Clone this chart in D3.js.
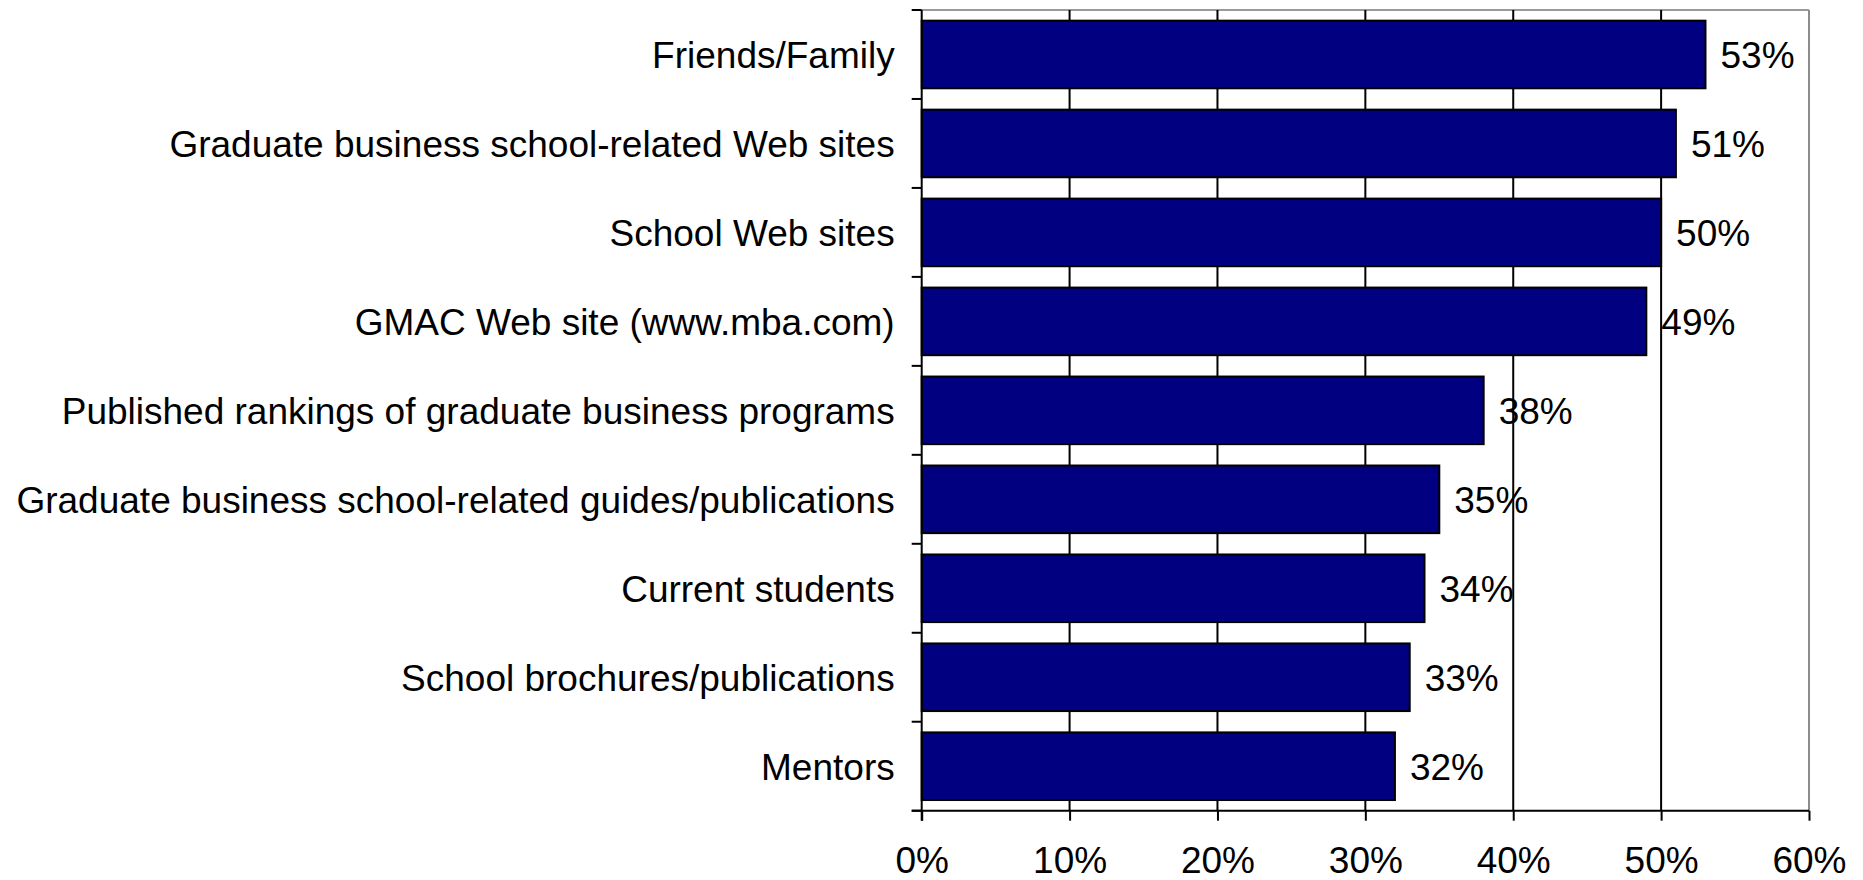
<!DOCTYPE html>
<html>
<head>
<meta charset="utf-8">
<script src="https://cdn.jsdelivr.net/npm/d3@7"></script>
<style>
  html, body { margin: 0; padding: 0; background: #ffffff; }
  svg { display: block; }
  text { font-family: "Liberation Sans", Arial, sans-serif; fill: #000; }
</style>
</head>
<body>
<svg id="chart" width="1863" height="880"></svg>
<script>
// Information sources used by prospective students (share of respondents)
const categories = [
  "Friends/Family",
  "Graduate business school-related Web sites",
  "School Web sites",
  "GMAC Web site (www.mba.com)",
  "Published rankings of graduate business programs",
  "Graduate business school-related guides/publications",
  "Current students",
  "School brochures/publications",
  "Mentors"
];
const values = [0.53, 0.51, 0.50, 0.49, 0.38, 0.35, 0.34, 0.33, 0.32];
const xTickValues = [0, 0.1, 0.2, 0.3, 0.4, 0.5, 0.6];

const W = 1863, H = 880;
const margin = { top: 10, right: 54, bottom: 69.3, left: 921.7 };
const innerW = W - margin.left - margin.right;
const innerH = H - margin.top - margin.bottom;

const svg = d3.select("#chart");
const g = svg.append("g").attr("transform", `translate(${margin.left},${margin.top})`);

const x = d3.scaleLinear().domain([0, 0.6]).range([0, innerW]);
const y = d3.scaleBand().domain(categories).range([0, innerH])
  .paddingInner(0.24).paddingOuter(0.12);

const fmt = d3.format(".0%");
const fontSize = 37;
const fontFamily = '"Liberation Sans", Arial, sans-serif';

// Plot frame: grey top and right edges
g.append("line").attr("x1", 0).attr("x2", innerW).attr("y1", 0).attr("y2", 0)
  .attr("stroke", "#9a9a9a").attr("stroke-width", 2);
g.append("line").attr("x1", innerW).attr("x2", innerW).attr("y1", 0).attr("y2", innerH)
  .attr("stroke", "#8c8c8c").attr("stroke-width", 2);

// Vertical gridlines
g.append("g").selectAll("line")
  .data(xTickValues.filter(v => v > 0 && v < 0.6))
  .join("line")
  .attr("x1", d => x(d)).attr("x2", d => x(d))
  .attr("y1", 0).attr("y2", innerH)
  .attr("stroke", "#000").attr("stroke-width", 2);

// Bars
g.append("g").selectAll("rect")
  .data(categories)
  .join("rect")
  .attr("x", 0)
  .attr("y", d => y(d))
  .attr("width", (d, i) => x(values[i]))
  .attr("height", y.bandwidth())
  .attr("fill", "#000080")
  .attr("stroke", "#000")
  .attr("stroke-width", 2);

// Value labels
g.append("g").selectAll("text")
  .data(categories)
  .join("text")
  .attr("x", (d, i) => x(values[i]) + 15)
  .attr("y", d => y(d) + y.bandwidth() / 2)
  .attr("dy", "0.36em")
  .style("font-size", fontSize + "px")
  .text((d, i) => fmt(values[i]));

// X axis
const xAxis = d3.axisBottom(x).tickValues(xTickValues).tickFormat(fmt)
  .tickSize(10).tickSizeOuter(0).tickPadding(26);
const gx = g.append("g").attr("transform", `translate(0,${innerH})`).call(xAxis);
gx.select(".domain").remove();
gx.selectAll(".tick line").attr("stroke", "#000").attr("stroke-width", 2);
gx.selectAll(".tick text").style("font-size", fontSize + "px").style("font-family", fontFamily);
gx.append("line").attr("x1", -10).attr("x2", innerW).attr("y1", 0).attr("y2", 0)
  .attr("stroke", "#000").attr("stroke-width", 2);

// Y axis: category labels plus tick marks on band boundaries
const yAxis = d3.axisLeft(y).tickSize(0).tickPadding(27);
const gy = g.append("g").call(yAxis);
gy.select(".domain").remove();
gy.selectAll(".tick text").style("font-size", fontSize + "px")
  .style("font-family", fontFamily).attr("dy", "0.36em");

const step = y.step();
const boundaries = categories.map(c => y(c) - step * y.paddingInner() / 2).concat([innerH]);
gy.append("g").selectAll("line")
  .data(boundaries)
  .join("line")
  .attr("x1", -10).attr("x2", 0)
  .attr("y1", d => d).attr("y2", d => d)
  .attr("stroke", "#000").attr("stroke-width", 2);
gy.append("line").attr("x1", 0).attr("x2", 0).attr("y1", 0).attr("y2", innerH + 10)
  .attr("stroke", "#000").attr("stroke-width", 2);
</script>
</body>
</html>
